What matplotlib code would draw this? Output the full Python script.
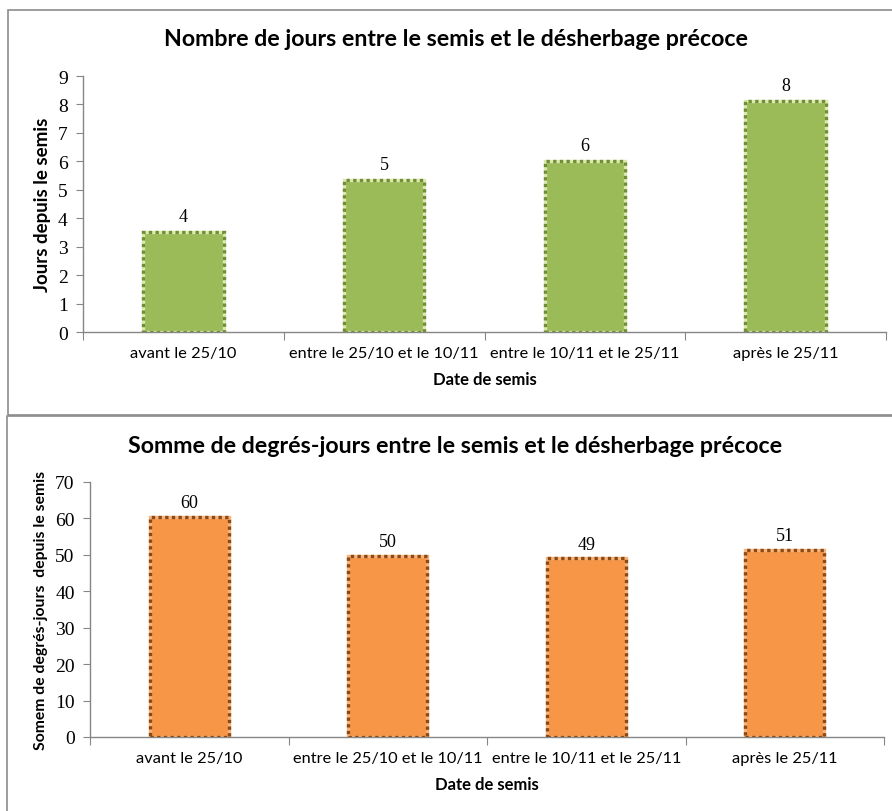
import matplotlib
matplotlib.use("Agg")
import matplotlib.pyplot as plt
from matplotlib.patches import Rectangle

categories = ["avant le 25/10", "entre le 25/10 et le 10/11", "entre le 10/11 et le 25/11", "après le 25/11"]
jours = [3.5, 5.35, 6.0, 8.12]
jours_labels = ["4", "5", "6", "8"]
degres = [60.4, 49.7, 49.1, 51.4]
degres_labels = ["60", "50", "49", "51"]

W, H = 892, 812
fig = plt.figure(figsize=(W / 100, H / 100), dpi=100)

sans = ["Lato", "DejaVu Sans"]
serif = ["Liberation Serif", "DejaVu Serif"]
axis_gray = "#868686"

def px_ax(left, right, top, bottom):
    return [left / W, 1 - bottom / H, (right - left) / W, (bottom - top) / H]

# panel borders
fig.patches.append(Rectangle((8 / W, 1 - 416 / H), 2, (416 - 11) / H, transform=fig.transFigure,
                             fill=False, edgecolor="#8c8c8c", linewidth=1.2))
fig.patches.append(Rectangle((7 / W, -1), 2, 1 + 1 - 417 / H, transform=fig.transFigure,
                             fill=False, edgecolor="#8c8c8c", linewidth=1.2))

def draw(ax, values, labels, ymax, step, fill, edge, gap, ylabel, ylab_size, lab_off):
    x = list(range(len(categories)))
    ax.bar(x, values, width=0.4, color=fill, edgecolor=gap, linewidth=2.4, zorder=2)
    ax.bar(x, values, width=0.4, fill=False, edgecolor=edge, linewidth=2.4,
           linestyle=(0, (1, 1)), zorder=3)
    ax.set_xlim(-0.5, len(categories) - 0.5)
    ax.set_ylim(0, ymax)
    ax.set_yticks(range(0, ymax + 1, step))
    ax.set_xticks([i - 0.5 for i in range(len(categories) + 1)])
    ax.set_xticklabels([])
    ax.set_xticks(x, minor=True)
    ax.set_xticklabels(categories, minor=True, fontfamily=sans, fontsize=11.8)
    ax.tick_params(axis="x", which="minor", length=0, pad=10)
    ax.tick_params(axis="x", which="major", length=6, color=axis_gray, direction="out")
    ax.tick_params(axis="y", length=5, color=axis_gray, pad=6)
    for t in ax.get_yticklabels():
        t.set_fontfamily(serif)
        t.set_fontsize(14)
    for s in ["top", "right"]:
        ax.spines[s].set_visible(False)
    for s in ["left", "bottom"]:
        ax.spines[s].set_color(axis_gray)
        ax.spines[s].set_linewidth(1)
    ax.set_xlabel("Date de semis", fontfamily=sans, fontsize=12, fontweight="bold", labelpad=8)
    ax.set_ylabel(ylabel, fontfamily=sans, fontsize=ylab_size, fontweight="bold", labelpad=5)
    for xi, v, lab in zip(x, values, labels):
        ax.annotate(lab, (xi, v), xytext=(0, lab_off), textcoords="offset points",
                    ha="center", va="bottom", fontfamily=serif, fontsize=13)

ax1 = fig.add_axes(px_ax(83, 886, 77, 333))
draw(ax1, jours, jours_labels, 9, 1, "#9BBB59", "#6F8F34", "#DDE8B0",
     "Jours depuis le semis", 13.5, 5)
ax2 = fig.add_axes(px_ax(90, 884, 483, 738))
draw(ax2, degres, degres_labels, 70, 10, "#F79646", "#8A4A16", "#F9B27A",
     "Somem de degrés-jours  depuis le semis", 11.3, 4)

fig.text(456 / W, 1 - 39 / H, "Nombre de jours entre le semis et le désherbage précoce",
         ha="center", va="center", fontfamily=sans, fontsize=16.7, fontweight="bold")
fig.text(455 / W, 1 - 447 / H, "Somme de degrés-jours entre le semis et le désherbage précoce",
         ha="center", va="center", fontfamily=sans, fontsize=16.7, fontweight="bold")

fig.savefig("out.png", dpi=100, facecolor="white")
